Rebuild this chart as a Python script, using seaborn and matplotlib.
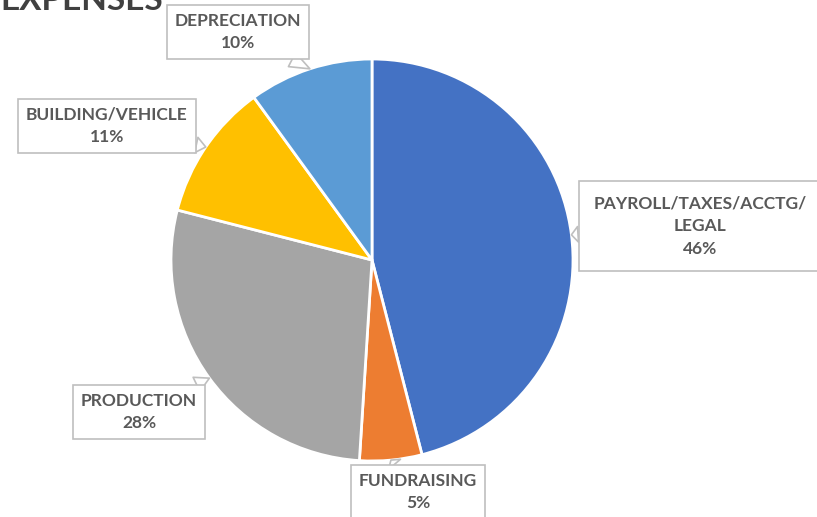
import matplotlib
matplotlib.use("Agg")
import matplotlib.pyplot as plt
import numpy as np
import seaborn as sns

# data
labels = ["PAYROLL/TAXES/ACCTG/\nLEGAL", "FUNDRAISING", "PRODUCTION", "BUILDING/VEHICLE", "DEPRECIATION"]
shares = [46, 5, 28, 11, 10]
colors = ["#4472C4", "#ED7D31", "#A5A5A5", "#FFC000", "#5B9BD5"]
title = "EXPENSES"

sns.set_theme(style="white")
plt.rcParams["font.family"] = ["Lato", "DejaVu Sans"]

W, H = 817, 517
fig = plt.figure(figsize=(W / 100, H / 100), dpi=100)
ax = fig.add_axes([0, 0, 1, 1])

cx, cy, r = 372, H - 260, 201
wedges, _ = ax.pie(shares, colors=colors, startangle=90, counterclock=False,
                   center=(cx, cy), radius=r,
                   wedgeprops=dict(edgecolor="white", linewidth=2))
ax.set_xlim(0, W)
ax.set_ylim(0, H)
ax.set_aspect("equal")
ax.axis("off")

# callout box centres (pixels from top-left) and paddings
box_pos = [(700, 226), (418, 492), (139, 412), (107, 126), (238, 32)]
box_pad = [0.85, 0.45, 0.45, 0.45, 0.45]

for w, lab, s, (bx, by), pad in zip(wedges, labels, shares, box_pos, box_pad):
    mid = np.deg2rad((w.theta1 + w.theta2) / 2)
    px = cx + r * np.cos(mid)
    py = cy + r * np.sin(mid)
    ax.annotate(f"{lab}\n{s}%", xy=(px, py), xytext=(bx, H - by),
                ha="center", va="center", fontsize=12.5, fontweight="bold",
                color="#595959", linespacing=1.5,
                bbox=dict(boxstyle=f"square,pad={pad}", fc="white", ec="#BFBFBF", lw=1.2),
                arrowprops=dict(arrowstyle="wedge,tail_width=0.9", fc="white",
                                ec="#BFBFBF", lw=1.2, shrinkA=0, shrinkB=0))

ax.text(0, H - 10, title, ha="left", va="baseline", fontsize=24,
        fontweight="bold", color="#404040")

fig.savefig("out.png", dpi=100)
